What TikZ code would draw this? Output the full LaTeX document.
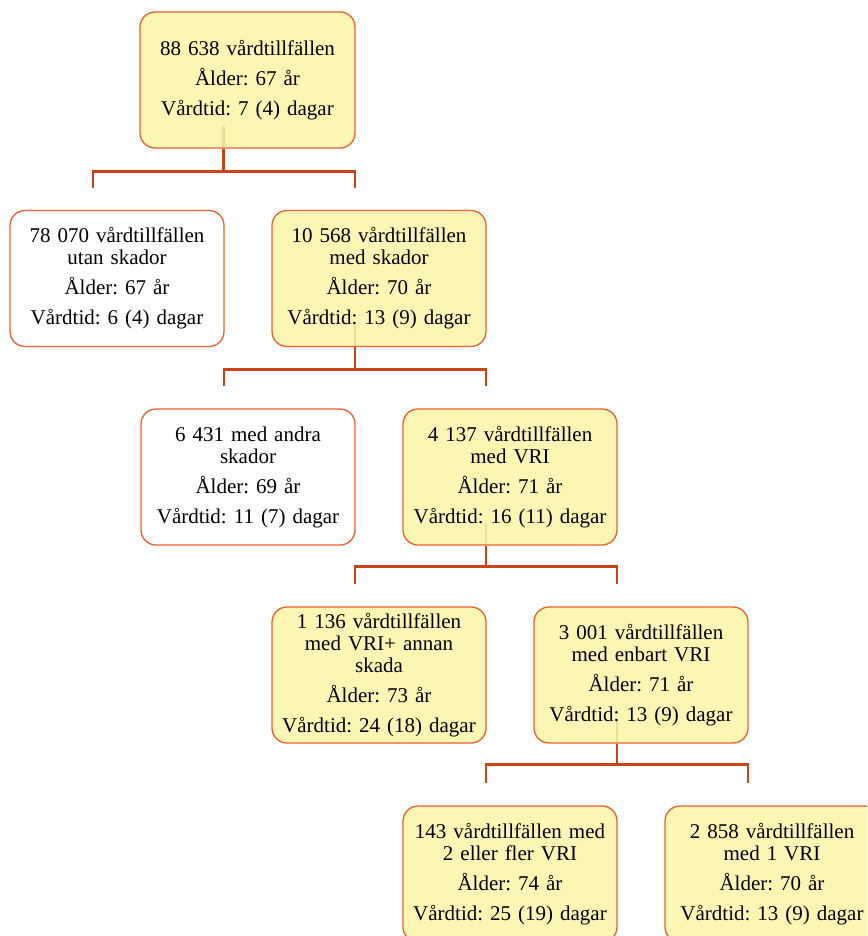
\documentclass[tikz,border=0pt]{standalone}
\usepackage{fontspec}
\setmainfont{Liberation Serif}
\frenchspacing
\definecolor{cardfill}{RGB}{252,246,180}
\definecolor{cardline}{RGB}{236,96,48}
\definecolor{connline}{RGB}{200,68,24}
\definecolor{stemfaint}{RGB}{238,222,150}
\tikzset{
  card/.style={draw=cardline, line width=1.3pt, rounded corners=15pt,
    minimum width=214pt, minimum height=136pt, text width=206pt,
    align=center, inner sep=0pt, font=\fontsize{21}{22}\selectfont},
  hot/.style={card, fill=cardfill},
  cold/.style={card, fill=white},
  conn/.style={draw=connline, line width=2.8pt},
  faintstem/.style={path picture={\draw[draw=stemfaint, line width=2.8pt]
    ([xshift=-24pt]path picture bounding box.south) -- ++(0pt,22pt);}}
}
\newcommand{\gap}{\\[8pt]}
\begin{document}
\begin{tikzpicture}[x=1pt,y=-1pt]
\useasboundingbox (0,0) rectangle (867,936);
\clip (0,0) rectangle (867,936);

% level 1
\node[hot, faintstem, minimum width=215pt] (all) at (247.5,80)
  {88 638 vårdtillfällen\gap Ålder: 67 år\gap Vårdtid: 7 (4) dagar};

% level 2
\node[cold] (noinj) at (117,278.5)
  {78 070 vårdtillfällen\\utan skador\gap Ålder: 67 år\gap Vårdtid: 6 (4) dagar};
\node[hot, faintstem] (inj) at (379,278.5)
  {10 568 vårdtillfällen\\med skador\gap Ålder: 70 år\gap Vårdtid: 13 (9) dagar};

% level 3
\node[cold] (other) at (248,477)
  {6 431 med andra\\skador\gap Ålder: 69 år\gap Vårdtid: 11 (7) dagar};
\node[hot, faintstem] (vri) at (510,477)
  {4 137 vårdtillfällen\\med VRI\gap Ålder: 71 år\gap Vårdtid: 16 (11) dagar};

% level 4
\node[hot] (vriplus) at (379,675)
  {1 136 vårdtillfällen\\med VRI+ annan\\skada\gap Ålder: 73 år\gap Vårdtid: 24 (18) dagar};
\node[hot, faintstem] (vrionly) at (641,675)
  {3 001 vårdtillfällen\\med enbart VRI\gap Ålder: 71 år\gap Vårdtid: 13 (9) dagar};

% level 5
\node[hot] (multi) at (510,874)
  {143 vårdtillfällen med\\2 eller fler VRI\gap Ålder: 74 år\gap Vårdtid: 25 (19) dagar};
\node[hot] (single) at (772,874)
  {2 858 vårdtillfällen\\med 1 VRI\gap Ålder: 70 år\gap Vårdtid: 13 (9) dagar};

% connectors
\draw[conn] ([xshift=-24pt]all.south) -- ++(0,23) coordinate (j1);
\draw[conn] ([xshift=-24pt,yshift=22pt]noinj.north) |- (j1) -| ([xshift=-24pt,yshift=22pt]inj.north);

\draw[conn] ([xshift=-24pt]inj.south) -- ++(0,22) coordinate (j2);
\draw[conn] ([xshift=-24pt,yshift=22pt]other.north) |- (j2) -| ([xshift=-24pt,yshift=22pt]vri.north);

\draw[conn] ([xshift=-24pt]vri.south) -- ++(0,21) coordinate (j3);
\draw[conn] ([xshift=-24pt,yshift=22pt]vriplus.north) |- (j3) -| ([xshift=-24pt,yshift=22pt]vrionly.north);

\draw[conn] ([xshift=-24pt]vrionly.south) -- ++(0,21) coordinate (j4);
\draw[conn] ([xshift=-24pt,yshift=22pt]multi.north) |- (j4) -| ([xshift=-24pt,yshift=22pt]single.north);
\end{tikzpicture}
\end{document}
